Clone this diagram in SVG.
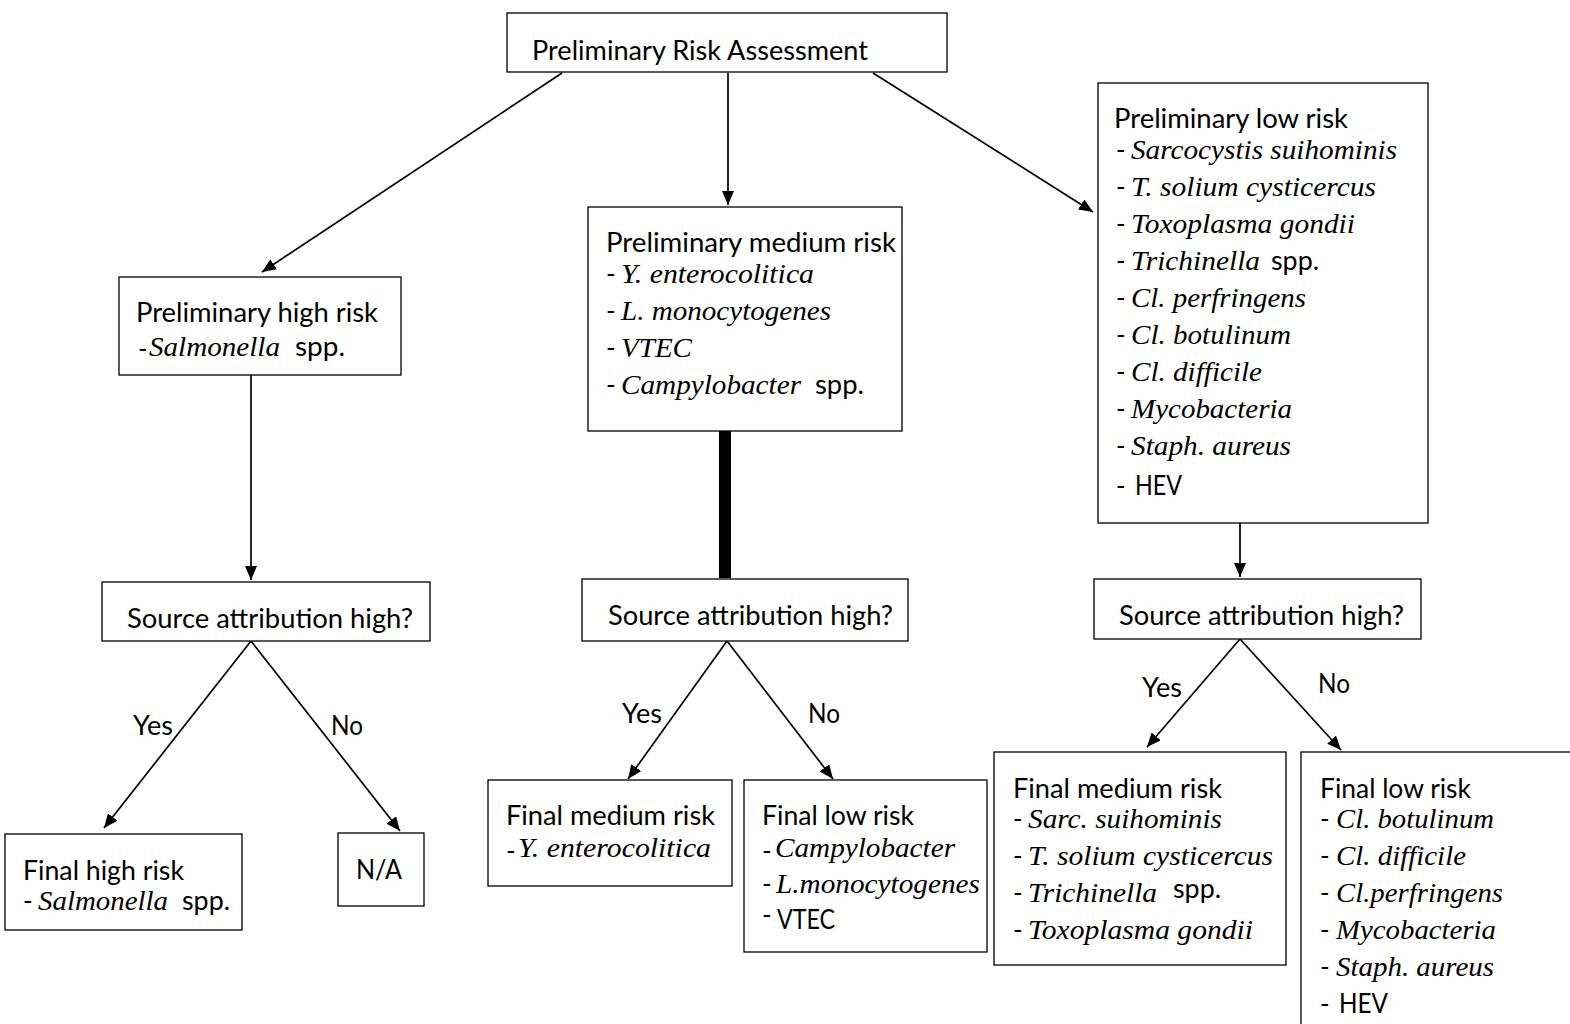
<svg xmlns="http://www.w3.org/2000/svg" width="1570" height="1024" viewBox="0 0 1570 1024">
<style>
.box{fill:#fff;stroke:#000;stroke-width:1.3}
.s{font-family:Lato,"Liberation Sans",sans-serif;font-size:26px;fill:#000}
.i{font-family:"Liberation Serif",serif;font-style:italic;font-size:28px;fill:#000}
.c{stroke:#000;stroke-width:1.7;fill:none}
</style>
<defs>
<marker id="ah" markerUnits="userSpaceOnUse" markerWidth="14" markerHeight="12" refX="14" refY="6" orient="auto">
<path d="M0,0 L14,6 L0,12 z" fill="#000"/>
</marker>
</defs>
<rect width="1570" height="1024" fill="#fff"/>

<g id="connectors">
<line class="c" x1="562" y1="73" x2="262" y2="272" marker-end="url(#ah)"/>
<line class="c" x1="728" y1="73" x2="728" y2="205" marker-end="url(#ah)"/>
<line class="c" x1="873" y1="73" x2="1093" y2="212" marker-end="url(#ah)"/>
<line class="c" x1="251" y1="375" x2="251" y2="580" marker-end="url(#ah)"/>
<line x1="725" y1="431" x2="725" y2="578" stroke="#000" stroke-width="12"/>
<line class="c" x1="1240" y1="523" x2="1240" y2="577" marker-end="url(#ah)"/>
<line class="c" x1="251" y1="641" x2="104" y2="828" marker-end="url(#ah)"/>
<line class="c" x1="251" y1="641" x2="400" y2="831" marker-end="url(#ah)"/>
<line class="c" x1="727" y1="641" x2="628" y2="779" marker-end="url(#ah)"/>
<line class="c" x1="727" y1="641" x2="833" y2="779" marker-end="url(#ah)"/>
<line class="c" x1="1240" y1="639" x2="1147" y2="747" marker-end="url(#ah)"/>
<line class="c" x1="1240" y1="639" x2="1341" y2="750" marker-end="url(#ah)"/>
<text class="s" x="133" y="735" textLength="40" lengthAdjust="spacingAndGlyphs">Yes</text>
<text class="s" x="331" y="735" textLength="32" lengthAdjust="spacingAndGlyphs">No</text>
<text class="s" x="622" y="723" textLength="40" lengthAdjust="spacingAndGlyphs">Yes</text>
<text class="s" x="808" y="723" textLength="32" lengthAdjust="spacingAndGlyphs">No</text>
<text class="s" x="1142" y="697" textLength="40" lengthAdjust="spacingAndGlyphs">Yes</text>
<text class="s" x="1318" y="693" textLength="32" lengthAdjust="spacingAndGlyphs">No</text>
</g>

<g id="top">
<rect class="box" x="507" y="13" width="440" height="59"/>
<text class="s" x="532" y="60" textLength="336" lengthAdjust="spacingAndGlyphs">Preliminary Risk Assessment</text>
</g>

<g id="prelim-high">
<rect class="box" x="119" y="277" width="282" height="98"/>
<text class="s" x="136" y="322" textLength="242" lengthAdjust="spacingAndGlyphs">Preliminary high risk</text>
<text class="s" x="138" y="358" font-size="18">-</text>
<text class="i" x="149" y="356" textLength="131" lengthAdjust="spacingAndGlyphs">Salmonella</text>
<text class="s" x="295" y="356" textLength="50" lengthAdjust="spacingAndGlyphs">spp.</text>
</g>

<g id="prelim-medium">
<rect class="box" x="588" y="207" width="314" height="224"/>
<text class="s" x="606" y="252" textLength="290" lengthAdjust="spacingAndGlyphs">Preliminary medium risk</text>
<text class="s" x="606" y="283">-</text>
<text class="i" x="621" y="283" textLength="193" lengthAdjust="spacingAndGlyphs">Y. enterocolitica</text>
<text class="s" x="606" y="320">-</text>
<text class="i" x="621" y="320" textLength="210" lengthAdjust="spacingAndGlyphs">L. monocytogenes</text>
<text class="s" x="606" y="357">-</text>
<text class="i" x="621" y="357" textLength="71" lengthAdjust="spacingAndGlyphs">VTEC</text>
<text class="s" x="606" y="394">-</text>
<text class="i" x="621" y="394" textLength="180" lengthAdjust="spacingAndGlyphs">Campylobacter</text>
<text class="s" x="815" y="394" textLength="49" lengthAdjust="spacingAndGlyphs">spp.</text>
</g>

<g id="prelim-low">
<rect class="box" x="1098" y="83" width="330" height="440"/>
<text class="s" x="1114" y="128" textLength="234" lengthAdjust="spacingAndGlyphs">Preliminary low risk</text>
<text class="s" x="1116" y="159">-</text>
<text class="i" x="1131" y="159" textLength="266" lengthAdjust="spacingAndGlyphs">Sarcocystis suihominis</text>
<text class="s" x="1116" y="196">-</text>
<text class="i" x="1131" y="196" textLength="245" lengthAdjust="spacingAndGlyphs">T. solium cysticercus</text>
<text class="s" x="1116" y="233">-</text>
<text class="i" x="1131" y="233" textLength="224" lengthAdjust="spacingAndGlyphs">Toxoplasma gondii</text>
<text class="s" x="1116" y="270">-</text>
<text class="i" x="1131" y="270" textLength="129" lengthAdjust="spacingAndGlyphs">Trichinella</text>
<text class="s" x="1271" y="270" textLength="48" lengthAdjust="spacingAndGlyphs">spp.</text>
<text class="s" x="1116" y="307">-</text>
<text class="i" x="1131" y="307" textLength="175" lengthAdjust="spacingAndGlyphs">Cl. perfringens</text>
<text class="s" x="1116" y="344">-</text>
<text class="i" x="1131" y="344" textLength="160" lengthAdjust="spacingAndGlyphs">Cl. botulinum</text>
<text class="s" x="1116" y="381">-</text>
<text class="i" x="1131" y="381" textLength="131" lengthAdjust="spacingAndGlyphs">Cl. difficile</text>
<text class="s" x="1116" y="418">-</text>
<text class="i" x="1131" y="418" textLength="161" lengthAdjust="spacingAndGlyphs">Mycobacteria</text>
<text class="s" x="1116" y="455">-</text>
<text class="i" x="1131" y="455" textLength="160" lengthAdjust="spacingAndGlyphs">Staph. aureus</text>
<text class="s" x="1116" y="495">-</text>
<text class="s" x="1135" y="495" textLength="47" lengthAdjust="spacingAndGlyphs">HEV</text>
</g>

<g id="source-high">
<rect class="box" x="102" y="582" width="328" height="59"/>
<text class="s" x="127" y="628" textLength="286" lengthAdjust="spacingAndGlyphs">Source attribution high?</text>
</g>

<g id="source-medium">
<rect class="box" x="582" y="579" width="326" height="62"/>
<text class="s" x="608" y="625" textLength="285" lengthAdjust="spacingAndGlyphs">Source attribution high?</text>
</g>

<g id="source-low">
<rect class="box" x="1094" y="579" width="327" height="60"/>
<text class="s" x="1119" y="625" textLength="285" lengthAdjust="spacingAndGlyphs">Source attribution high?</text>
</g>

<g id="final-high">
<rect class="box" x="5" y="834" width="237" height="96"/>
<text class="s" x="23" y="880" textLength="161" lengthAdjust="spacingAndGlyphs">Final high risk</text>
<text class="s" x="23" y="910">-</text>
<text class="i" x="38" y="910" textLength="130" lengthAdjust="spacingAndGlyphs">Salmonella</text>
<text class="s" x="182" y="910" textLength="48" lengthAdjust="spacingAndGlyphs">spp.</text>
</g>

<g id="na">
<rect class="box" x="338" y="833" width="86" height="73"/>
<text class="s" x="356" y="879" textLength="46" lengthAdjust="spacingAndGlyphs">N/A</text>
</g>

<g id="final-medium-mid">
<rect class="box" x="488" y="780" width="244" height="106"/>
<text class="s" x="506" y="825" textLength="209" lengthAdjust="spacingAndGlyphs">Final medium risk</text>
<text class="s" x="506" y="860" font-size="18">-</text>
<text class="i" x="518" y="857" textLength="193" lengthAdjust="spacingAndGlyphs">Y. enterocolitica</text>
</g>

<g id="final-low-mid">
<rect class="box" x="744" y="780" width="243" height="172"/>
<text class="s" x="762" y="825" textLength="152" lengthAdjust="spacingAndGlyphs">Final low risk</text>
<text class="s" x="762" y="860" font-size="18">-</text>
<text class="i" x="775" y="857" textLength="180" lengthAdjust="spacingAndGlyphs">Campylobacter</text>
<text class="s" x="762" y="893">-</text>
<text class="i" x="776" y="893" textLength="204" lengthAdjust="spacingAndGlyphs">L.monocytogenes</text>
<text class="s" x="762" y="924" font-size="20">-</text>
<text class="s" x="777" y="929" textLength="58" lengthAdjust="spacingAndGlyphs">VTEC</text>
</g>

<g id="final-medium-right">
<rect class="box" x="994" y="752" width="292" height="213"/>
<text class="s" x="1013" y="798" textLength="209" lengthAdjust="spacingAndGlyphs">Final medium risk</text>
<text class="s" x="1013" y="828">-</text>
<text class="i" x="1028" y="828" textLength="194" lengthAdjust="spacingAndGlyphs">Sarc. suihominis</text>
<text class="s" x="1013" y="865">-</text>
<text class="i" x="1028" y="865" textLength="245" lengthAdjust="spacingAndGlyphs">T. solium cysticercus</text>
<text class="s" x="1013" y="902" font-size="20">-</text>
<text class="i" x="1028" y="902" textLength="129" lengthAdjust="spacingAndGlyphs">Trichinella</text>
<text class="s" x="1173" y="898" textLength="48" lengthAdjust="spacingAndGlyphs">spp.</text>
<text class="s" x="1013" y="939">-</text>
<text class="i" x="1028" y="939" textLength="225" lengthAdjust="spacingAndGlyphs">Toxoplasma gondii</text>
</g>

<g id="final-low-right">
<rect class="box" x="1301" y="752" width="300" height="300"/>
<text class="s" x="1320" y="798" textLength="151" lengthAdjust="spacingAndGlyphs">Final low risk</text>
<text class="s" x="1320" y="828">-</text>
<text class="i" x="1336" y="828" textLength="158" lengthAdjust="spacingAndGlyphs">Cl. botulinum</text>
<text class="s" x="1320" y="865">-</text>
<text class="i" x="1336" y="865" textLength="130" lengthAdjust="spacingAndGlyphs">Cl. difficile</text>
<text class="s" x="1320" y="902">-</text>
<text class="i" x="1336" y="902" textLength="167" lengthAdjust="spacingAndGlyphs">Cl.perfringens</text>
<text class="s" x="1320" y="939">-</text>
<text class="i" x="1336" y="939" textLength="160" lengthAdjust="spacingAndGlyphs">Mycobacteria</text>
<text class="s" x="1320" y="976">-</text>
<text class="i" x="1336" y="976" textLength="158" lengthAdjust="spacingAndGlyphs">Staph. aureus</text>
<text class="s" x="1320" y="1013">-</text>
<text class="s" x="1339" y="1013" textLength="49" lengthAdjust="spacingAndGlyphs">HEV</text>
</g>
</svg>
